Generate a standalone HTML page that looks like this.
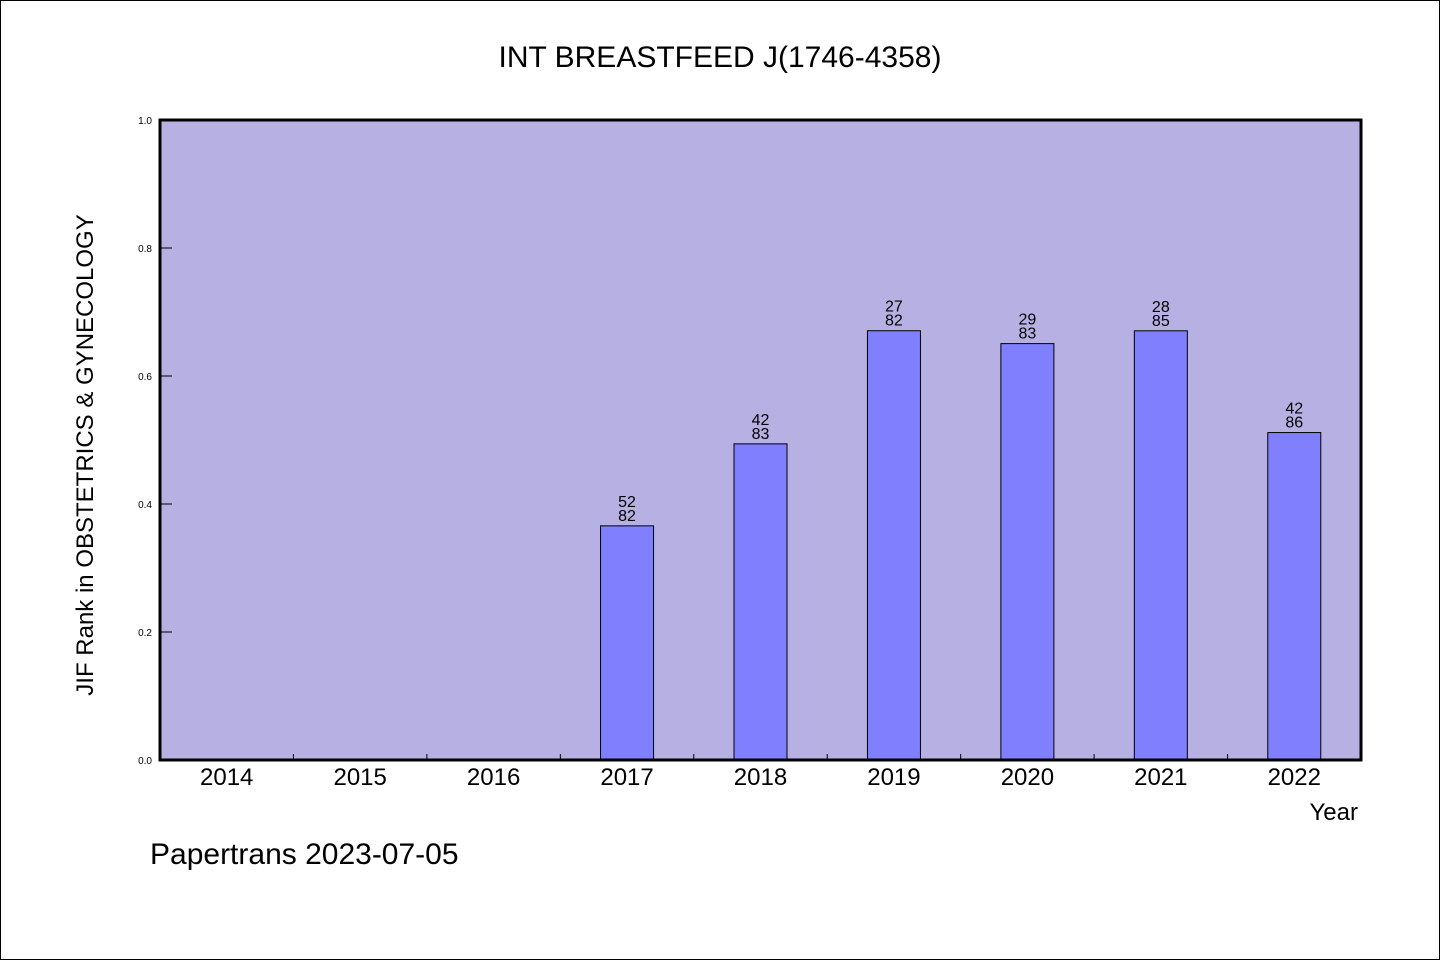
<!DOCTYPE html>
<html><head><meta charset="utf-8"><style>
body{margin:0;background:#fff;}
svg text{font-family:"WenQuanYi Zen Hei","Liberation Sans",sans-serif;}
</style></head><body>
<svg width="1440" height="960" xmlns="http://www.w3.org/2000/svg">
<rect x="0.5" y="0.5" width="1439" height="959" fill="#fff" stroke="#000"/>
<text x="720" y="67" font-size="30" text-anchor="middle">INT BREASTFEED J(1746-4358)</text>
<rect x="160" y="120" width="1201" height="640" fill="#b6b0e3"/>
<g id="g"></g>
<rect x="160" y="120" width="1201" height="640" fill="none" stroke="#000" stroke-width="3"/>
<text x="93" y="455" font-size="24" text-anchor="middle" transform="rotate(-90 93 455)">JIF Rank in OBSTETRICS &amp; GYNECOLOGY</text>
<text x="1358" y="820" font-size="24" text-anchor="end">Year</text>
<text x="150" y="864" font-size="30">Papertrans 2023-07-05</text>
</svg>
<script>
const categories=["2014","2015","2016","2017","2018","2019","2020","2021","2022"];
const ranks=[null,null,null,52,42,27,29,28,42];
const totals=[null,null,null,82,83,82,83,85,86];
const yTicks=[0,0.2,0.4,0.6,0.8,1.0];
const X0=160,X1=1361,Y0=760,Y1=120;
const bw=(X1-X0)/categories.length;
const xC=i=>X0+bw*(i+0.5);
const y=v=>Y0-(Y1-Y0)*-v;
const g=document.getElementById('g');
const NS="http://www.w3.org/2000/svg";
function mk(t,a){const e=document.createElementNS(NS,t);for(const k in a)e.setAttribute(k,a[k]);g.appendChild(e);return e;}
yTicks.forEach(v=>{
 const yy=Y0-(Y0-Y1)*v;
 const l=mk('line',{x1:X0,x2:X0+12,y1:yy,y2:yy,stroke:'#000'});
 
 
 const t=mk('text',{x:X0-8,y:yy+4,'font-size':10,'text-anchor':'end'});
 t.textContent=v.toFixed(1);
 
 
});
categories.forEach((c,i)=>{
 if(i>0){const l=mk('line',{x1:X0+bw*i,x2:X0+bw*i,y1:Y0,y2:Y0-6,stroke:'#000'});
 
 }
 const t=mk('text',{x:xC(i),y:Y0+25,'font-size':24,'text-anchor':'middle'});
 t.textContent=c;
 
 
 if(ranks[i]!=null){
  const v=1-ranks[i]/totals[i];
  const top=Y0-(Y0-Y1)*v;
  const b=mk('rect',{x:xC(i)-26.5,y:top,width:53,height:Y0-top,fill:'#8080ff',stroke:'#000','stroke-width':1});
  
  
  const t1=mk('text',{x:xC(i),y:top-19,'font-size':16,'text-anchor':'middle'});
  t1.textContent=ranks[i];
  
  
  const t2=mk('text',{x:xC(i),y:top-5,'font-size':16,'text-anchor':'middle'});
  t2.textContent=totals[i];
  
  
 }
});
</script>
</body></html>
